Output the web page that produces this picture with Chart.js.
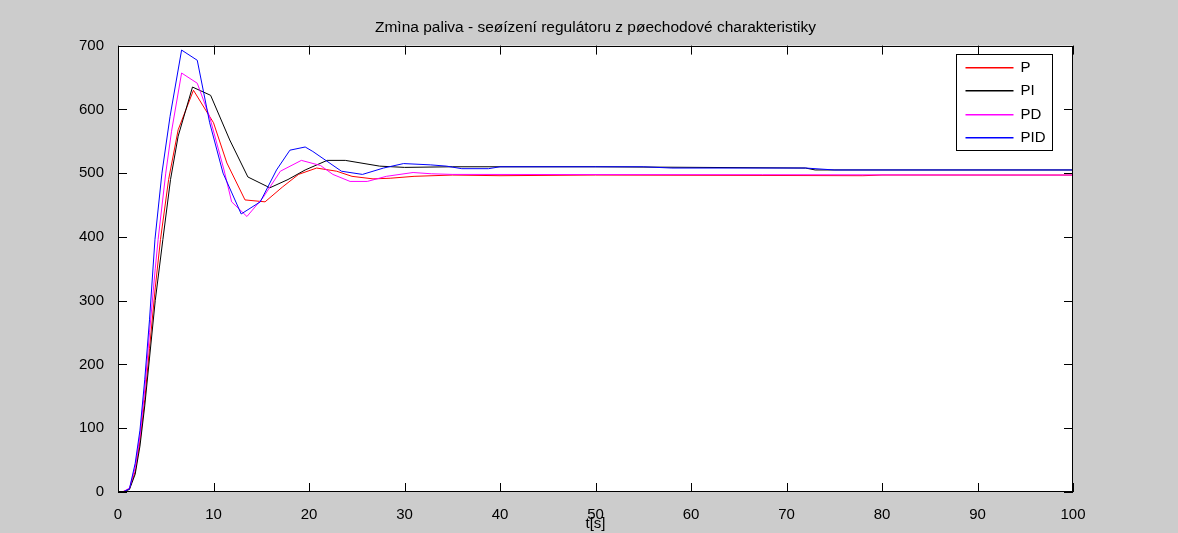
<!DOCTYPE html>
<html>
<head>
<meta charset="utf-8">
<script src="https://cdn.jsdelivr.net/npm/chart.js@4"></script>
<style>
  html, body { margin: 0; padding: 0; background: #cccccc; }
  #wrap { width: 1178px; height: 533px; }
  #chart { display: block; }
</style>
</head>
<body>
<div id="wrap"><canvas id="chart" width="1178" height="533"></canvas></div>
<script>
// step responses of the four controller setups (time in s, output value)
const tP   = [0, 0.6, 1.2, 1.8, 2.3, 2.8, 3.3, 3.9, 4.45, 5.3, 6.3, 7.9, 10.0, 11.4, 13.3, 15.4, 17.2, 18.9, 20.8, 22.9, 24.5, 26.7, 28.5, 31, 35, 40, 50, 78, 80, 100];
const yP   = [0, 1, 5, 32, 80, 145, 225, 320, 396, 490, 568, 630, 579, 516, 458, 455, 478, 498, 508, 503, 495, 491, 492, 495, 497, 496, 497, 496, 497, 497];

const tPI  = [0, 0.6, 1.2, 1.8, 2.3, 2.8, 3.3, 3.9, 4.7, 5.5, 6.3, 7.8, 9.7, 11.7, 13.6, 15.9, 17.8, 19.6, 21.9, 23.8, 27.4, 30, 35, 50, 72, 73, 100];
const yPI  = [0, 0.5, 4, 28, 72, 135, 210, 300, 396, 490, 558, 635, 622, 552, 494, 477, 490, 505, 520, 520, 511, 509, 510, 510, 508, 505, 505];

const tPD  = [0, 0.6, 1.2, 1.8, 2.3, 2.8, 3.3, 3.9, 4.2, 5.0, 5.6, 6.66, 8.3, 9.6, 11.1, 11.9, 13.5, 15.2, 17.0, 19.2, 21.2, 22.5, 24.3, 26.1, 28.1, 30.9, 32.8, 35, 100];
const yPD  = [0, 1, 6, 38, 88, 160, 250, 350, 396, 500, 565, 657, 641, 588, 505, 455, 432, 462, 503, 520, 512, 498, 487, 487, 495, 501, 499, 498, 497];

const tPID = [0, 0.6, 1.2, 1.8, 2.3, 2.8, 3.3, 3.87, 4.6, 5.45, 6.66, 8.3, 9.6, 11.0, 12.9, 14.9, 16.6, 18.0, 19.6, 20.4, 23.4, 25.6, 27.8, 29.9, 32.7, 34.4, 36, 38.8, 40, 55, 58, 72, 75, 100];
const yPID = [0, 0.5, 5, 45, 97, 176, 270, 396, 500, 589, 693, 677, 579, 500, 436, 455, 505, 536, 541, 534, 503, 498, 508, 515, 513, 511, 507, 507, 510, 510, 508, 508, 505, 505];

const seriesNames  = ['P', 'PI', 'PD', 'PID'];
const seriesColors = ['#ff0000', '#000000', '#ff00ff', '#0000ff'];
const xTicks = { min: 0, max: 100, step: 10 };
const yTicks = { min: 0, max: 700, step: 100 };

const FONT = 'Arial, "Liberation Sans", sans-serif';

function toPoints(t, y) {
    return t.map((v, i) => ({ x: v, y: y[i] }));
}

// white plot background
const bgPlugin = {
    id: 'plotBg',
    beforeDatasetsDraw(chart) {
        const a = chart.chartArea;
        chart.ctx.save();
        chart.ctx.fillStyle = '#ffffff';
        chart.ctx.fillRect(a.left, a.top, a.right - a.left, a.bottom - a.top);
        chart.ctx.restore();
    }
};

// axes box with inward ticks on all four sides, plus boxed legend
const framePlugin = {
    id: 'frame',
    afterDraw(chart) {
        const ctx = chart.ctx;
        const a = chart.chartArea;
        const xs = chart.scales.x, ys = chart.scales.y;
        const tick = 9;
        ctx.save();
        ctx.strokeStyle = '#000';
        ctx.lineWidth = 1;
        ctx.strokeRect(Math.round(a.left) + 0.5, Math.round(a.top) + 0.5,
                       Math.round(a.right - a.left) - 1, Math.round(a.bottom - a.top) - 1);
        ctx.beginPath();
        xs.ticks.forEach(tk => {
            const px = Math.round(xs.getPixelForValue(tk.value)) + 0.5;
            ctx.moveTo(px, a.bottom); ctx.lineTo(px, a.bottom - tick);
            ctx.moveTo(px, a.top); ctx.lineTo(px, a.top + tick);
        });
        ys.ticks.forEach(tk => {
            const py = Math.round(ys.getPixelForValue(tk.value)) + 0.5;
            ctx.moveTo(a.left, py); ctx.lineTo(a.left + tick, py);
            ctx.moveTo(a.right, py); ctx.lineTo(a.right - tick, py);
        });
        ctx.stroke();

        // legend
        const lx = 956.5, ly = 54.5, lw = 96, rowH = 23.5;
        const n = seriesNames.length;
        const lh = rowH * n + 2;
        ctx.fillStyle = '#fff';
        ctx.fillRect(lx, ly, lw, lh);
        ctx.strokeStyle = '#000';
        ctx.strokeRect(lx, ly, lw, lh);
        ctx.font = '15px ' + FONT;
        ctx.textBaseline = 'middle';
        ctx.textAlign = 'left';
        for (let i = 0; i < n; i++) {
            const y = Math.round(ly + 12 + i * rowH);
            ctx.fillStyle = seriesColors[i];
            ctx.fillRect(lx + 9, y, 48, 1.5);
            ctx.fillStyle = '#000';
            ctx.fillText(seriesNames[i], lx + 64, y + 1);
        }
        ctx.restore();
    }
};

// later series are painted over earlier ones
const datasets = [
    toPoints(tP, yP),
    toPoints(tPI, yPI),
    toPoints(tPD, yPD),
    toPoints(tPID, yPID)
].map((pts, i) => ({
    label: seriesNames[i],
    data: pts,
    borderColor: seriesColors[i],
    backgroundColor: seriesColors[i],
    order: seriesNames.length - i
}));

const ctx = document.getElementById('chart').getContext('2d');
const chart = new Chart(ctx, {
    type: 'line',
    data: { datasets: datasets },
    options: {
        responsive: false,
        animation: false,
        devicePixelRatio: 1,
        elements: {
            line: { borderWidth: 1, tension: 0, fill: false },
            point: { radius: 0, hoverRadius: 0 }
        },
        layout: { padding: { left: 0, right: 105, top: 0, bottom: 0 } },
        plugins: {
            legend: { display: false },
            tooltip: { enabled: false },
            title: {
                display: true,
                fullSize: false,
                text: 'Zmìna paliva - seøízení regulátoru z pøechodové charakteristiky',
                color: '#000',
                font: { family: FONT, size: 15.5, weight: 'normal', lineHeight: 1.2 },
                padding: { top: 18, bottom: 9 }
            }
        },
        scales: {
            x: {
                type: 'linear',
                min: xTicks.min,
                max: xTicks.max,
                grid: { display: false },
                border: { display: false },
                ticks: { stepSize: xTicks.step, color: '#000', padding: 6,
                         font: { family: FONT, size: 15 }, maxRotation: 0 },
                title: { display: true, text: 't[s]', color: '#000',
                         font: { family: FONT, size: 15 }, padding: { top: 0, bottom: 0 } },
                afterFit(scale) { scale.height = 41; }
            },
            y: {
                min: yTicks.min,
                max: yTicks.max,
                grid: { display: false },
                border: { display: false },
                ticks: { stepSize: yTicks.step, color: '#000', padding: 6,
                         font: { family: FONT, size: 15 } },
                afterFit(scale) { scale.width = 118; }
            }
        }
    },
    plugins: [bgPlugin, framePlugin]
});
</script>
</body>
</html>
